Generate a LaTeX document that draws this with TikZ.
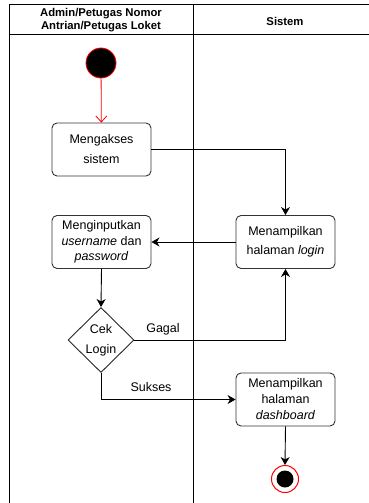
\documentclass[tikz,border=0pt]{standalone}
\usepackage{fontspec}
\setmainfont{Liberation Sans}
\usetikzlibrary{shapes.geometric,arrows.meta}
\begin{document}
\begin{tikzpicture}[x=1pt,y=-1pt,
  lane/.style={line width=1pt,draw=black},
  act/.style={draw=black!80,rounded corners=5pt,minimum width=99pt,minimum height=53pt,
    align=center,inner sep=0pt,line width=0.9pt,font=\fontsize{12.5}{15.5}\selectfont},
  decision/.style={draw=black!85,shape=diamond,inner sep=0pt,minimum width=66pt,
    minimum height=65pt,line width=0.9pt},
  flow/.style={draw=black,line width=0.9pt,-{Stealth[length=8pt,width=9pt,inset=2.5pt]}},
  lbl/.style={font=\fontsize{12.5}{14}\selectfont,inner sep=0pt},
  head/.style={font=\fontsize{11.3}{13}\selectfont\bfseries,align=center,inner sep=0pt}]
  \useasboundingbox (0,0) rectangle (369,503);

  % swimlane frame
  \draw[lane] (9,5) -- (369,5);
  \draw[lane] (9,35) -- (369,35);
  \draw[lane] (9,5) -- (9,503);
  \draw[lane] (193,5) -- (193,503);
  \node[head] (h1) at (101,20.5) {Admin/Petugas Nomor\\Antrian/Petugas Loket};
  \node[head] (h2) at (285,21) {Sistem};

  % activities
  \node[circle,fill=black,draw=red,line width=0.8pt,minimum size=30pt,inner sep=0pt] (start) at (101,63) {};
  \node[act,font=\fontsize{12.5}{20}\selectfont] (akses) at (101.5,149.5) {Mengakses\\sistem};
  \node[act,font=\fontsize{12.5}{19}\selectfont] (login) at (285.5,242) {Menampilkan\\halaman \textit{login}};
  \node[act] (input) at (101.5,242) {Menginputkan\\\textit{username} dan\\\textit{password}};
  \node[decision,label={[align=center,font=\fontsize{12.5}{20}\selectfont]center:Cek\\Login}] (cek) at (101,340) {};
  \node[act,font=\fontsize{12.5}{16}\selectfont] (dash) at (285.5,399.5) {Menampilkan\\halaman\\\textit{dashboard}};
  \node[circle,draw=red,fill=white,line width=1pt,minimum size=27pt,inner sep=0pt] (end) at (285,479) {};
  \node[circle,fill=black,minimum size=17pt,inner sep=0pt] (endin) at (end) {};

  % flows
  \draw[red,line width=0.8pt,-{Straight Barb[length=6pt,width=11pt]}] (start) -- (akses);
  \draw[flow] (akses.east) -| (login.north);
  \draw[flow] (login.west) -- (input.east);
  \draw[flow] (input.south) -- (cek.north);
  \draw[flow] (cek.east) -| (login.south);
  \draw[flow] (cek.south) |- (dash.west);
  \draw[flow] (dash.south) -- (end.north);

  % guard labels
  \node[lbl] (gagal) at (163,329) {Gagal};
  \node[lbl] (sukses) at (151,387) {Sukses};
\end{tikzpicture}
\end{document}
